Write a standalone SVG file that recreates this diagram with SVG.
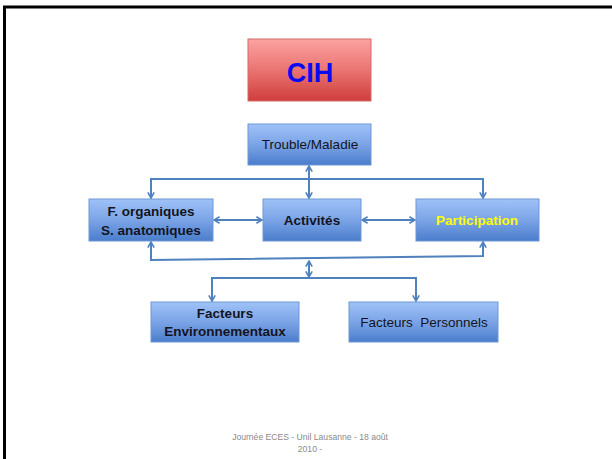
<svg xmlns="http://www.w3.org/2000/svg" width="612" height="459" viewBox="0 0 612 459">
<defs>
<linearGradient id="gBlue" x1="0" y1="0" x2="0" y2="1">
<stop offset="0" stop-color="#9fc2f8"/>
<stop offset="0.5" stop-color="#7ba4e6"/>
<stop offset="1" stop-color="#4a7dcc"/>
</linearGradient>
<linearGradient id="gRed" x1="0" y1="0" x2="0" y2="1">
<stop offset="0" stop-color="#fba3a1"/>
<stop offset="0.5" stop-color="#ea7472"/>
<stop offset="1" stop-color="#cf3e3b"/>
</linearGradient>
<marker id="ah" viewBox="0 0 10 10" refX="9" refY="5" markerWidth="8" markerHeight="8" markerUnits="userSpaceOnUse" orient="auto-start-reverse">
<polyline points="2,1 9,5 2,9" fill="none" stroke="#4f81bd" stroke-width="2"/>
</marker>
<style>
.box{fill:url(#gBlue);stroke:#6f97d2;stroke-width:1}
.t{font-family:"Liberation Sans",Arial,sans-serif;font-size:13.5px;fill:#141420;text-anchor:middle}
.b{font-weight:bold}
.c{fill:none;stroke:#4f81bd;stroke-width:2}
.f{font-family:"Liberation Sans",Arial,sans-serif;font-size:8.6px;fill:#8a8a8a;text-anchor:middle}
</style>
</defs>
<rect x="0" y="0" width="612" height="459" fill="#fff"/>
<path d="M4.5,470 V7 H620" fill="none" stroke="#000" stroke-width="3"/>

<g id="cih">
<rect x="248" y="39" width="123" height="62" fill="url(#gRed)" stroke="#d26b6b" stroke-width="1"/>
<text x="310" y="82" font-family="Liberation Sans,Arial,sans-serif" font-size="27" font-weight="bold" fill="#0a0af0" text-anchor="middle">CIH</text>
</g>
<g id="trouble">
<rect class="box" x="248" y="124" width="123" height="41"/>
<text class="t" x="310" y="149">Trouble/Maladie</text>
</g>
<g id="forganiques">
<rect class="box" x="89" y="199" width="124" height="42"/>
<text class="t b" x="151" y="216">F. organiques</text>
<text class="t b" x="151" y="235">S. anatomiques</text>
</g>
<g id="activites">
<rect class="box" x="263" y="199" width="98" height="42"/>
<text class="t b" x="312" y="225">Activités</text>
</g>
<g id="participation">
<rect class="box" x="416" y="199" width="123" height="42"/>
<text class="t b" x="477" y="225" style="fill:#ffff00">Participation</text>
</g>
<g id="envir">
<rect class="box" x="151" y="302" width="148" height="40"/>
<text class="t b" x="225" y="318">Facteurs</text>
<text class="t b" x="225" y="336">Environnementaux</text>
</g>
<g id="perso">
<rect class="box" x="349" y="302" width="149" height="40"/>
<text class="t" x="424" y="327" xml:space="preserve">Facteurs  Personnels</text>
</g>

<g id="connectors">
<path class="c" d="M151,198 V179 H483 V198" marker-start="url(#ah)" marker-end="url(#ah)"/>
<path class="c" d="M309,166 V198" marker-start="url(#ah)" marker-end="url(#ah)"/>
<path class="c" d="M214,220 H262" marker-start="url(#ah)" marker-end="url(#ah)"/>
<path class="c" d="M362,220 H415" marker-start="url(#ah)" marker-end="url(#ah)"/>
<path class="c" d="M151,242 V260 L483,256 V242" marker-start="url(#ah)" marker-end="url(#ah)"/>
<path class="c" d="M309,261 V277" marker-start="url(#ah)" marker-end="url(#ah)"/>
<path class="c" d="M212,301 V278 H416 V301" marker-start="url(#ah)" marker-end="url(#ah)"/>
</g>

<g id="footer">
<text class="f" x="310" y="440">Journée ECES - Unil Lausanne - 18 août</text>
<text class="f" x="310" y="452">2010 -</text>
</g>
</svg>
